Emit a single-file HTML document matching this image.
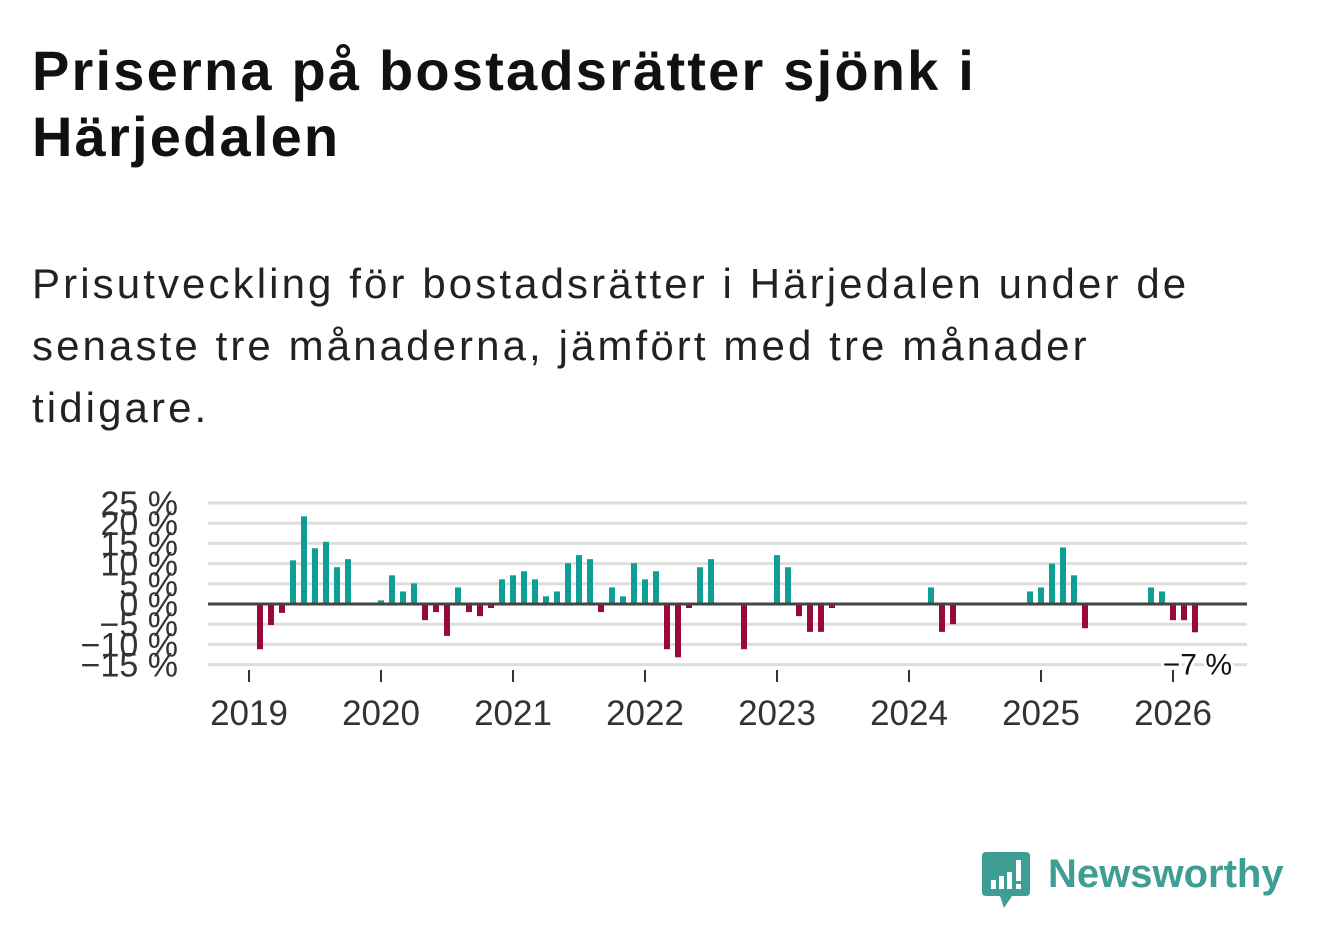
<!DOCTYPE html>
<html><head><meta charset="utf-8"><style>
body{margin:0;background:#fff;width:1322px;height:939px;overflow:hidden;font-family:"Liberation Sans","DejaVu Sans",sans-serif;}
h1{position:absolute;left:32px;top:38px;margin:0;font-size:56px;line-height:66px;font-weight:bold;color:#111;width:1250px;letter-spacing:2.2px;white-space:nowrap}
p{position:absolute;left:32px;top:253px;margin:0;font-size:42px;line-height:62px;color:#222;width:1280px;letter-spacing:3.1px;white-space:nowrap}
</style></head><body>
<h1>Priserna på bostadsrätter sjönk i<br>Härjedalen</h1>
<p>Prisutveckling för bostadsrätter i Härjedalen under de<br>senaste tre månaderna, jämfört med tre månader<br>tidigare.</p>
<svg id="chart" width="1322" height="939" style="position:absolute;left:0;top:0"></svg>
<div style="position:absolute;left:982px;top:852px;width:320px;height:60px">
<svg width="50" height="58" style="position:absolute;left:0;top:0"><path d="M4 0H44Q48 0 48 4V40Q48 44 44 44H30L22 56L18 44H4Q0 44 0 40V4Q0 0 4 0Z" fill="#3f9e94"/><rect x="9" y="28" width="5" height="9" fill="#fff"/><rect x="17" y="24" width="5" height="13" fill="#fff"/><rect x="25" y="20" width="5" height="17" fill="#fff"/><rect x="34" y="8" width="5" height="21" fill="#fff"/><rect x="34" y="32" width="5" height="5" fill="#fff"/></svg>
<span style="position:absolute;left:66px;top:0px;font-size:40px;font-weight:bold;color:#3f9e94;font-family:'Liberation Sans',sans-serif">Newsworthy</span>
</div>
<script>
const values=[null,-11.2,-5.2,-2.2,10.8,21.7,13.8,15.4,9.1,11.1,null,null,
0.9,7.1,3.1,5.1,-4,-2,-7.9,4.1,-2,-3,-1,6.1,
7.1,8.1,6.1,1.9,3.1,10.1,12.1,11.1,-2,4.1,1.9,10.1,
6.1,8.1,-11.2,-13.2,-1,9.1,11.1,null,null,-11.2,null,null,
12.1,9.1,-3,-6.9,-6.9,-1,null,null,null,null,null,null,
null,null,4.1,-6.9,-5,null,null,null,null,null,null,3.1,
4.1,10,14,7.1,-6,null,null,null,null,null,4.1,3.1,
-4,-4,-7];
const yTicks=[25,20,15,10,5,0,-5,-10,-15];
const years=[2019,2020,2021,2022,2023,2024,2025,2026];
const lastLabel="−7 %";
const NS="http://www.w3.org/2000/svg";
const svg=document.getElementById('chart');
const x0=208,x1=1247;
const y=v=>604-v*4.04;
const x=i=>249+11*i;
function mk(t,a){const e=document.createElementNS(NS,t);for(const k in a)e.setAttribute(k,a[k]);svg.appendChild(e);return e;}
yTicks.forEach(t=>{
 if(t!==0){const g=mk('line',{x1:x0,x2:x1,y1:y(t),y2:y(t),stroke:'#ddd','stroke-width':3});
 
 }
 const l=mk('text',{x:178,y:y(t)+12,'text-anchor':'end','font-size':34,fill:'#333','font-family':'Liberation Sans, sans-serif'});
 l.textContent=(t<0?'−'+(-t):t)+' %';
 
 
});
years.forEach((yr,k)=>{
 const xx=x(k*12);
 const tk=mk('line',{x1:xx,x2:xx,y1:670,y2:682,stroke:'#333','stroke-width':2});
 
 
 const t=mk('text',{x:xx,y:725,'text-anchor':'middle','font-size':35,fill:'#333','font-family':'Liberation Sans, sans-serif'});
 t.textContent=yr;
 
 
});
values.forEach((v,i)=>{
 if(v===null)return;
 const r=mk('rect',{x:x(i)-3,width:6,y:Math.min(y(v),y(0)),height:Math.abs(y(v)-y(0)),fill:v>=0?'#0f9e94':'#970a3b'});
 
 
});
const z=mk('line',{x1:x0,x2:x1,y1:y(0),y2:y(0),stroke:'#444','stroke-width':3});


const li=values.length-1;
const lb=mk('text',{x:x(li)+37,y:y(values[li])+42,'text-anchor':'end','font-size':30,fill:'#111',stroke:'#fff','stroke-width':6,'paint-order':'stroke','font-family':'Liberation Sans, sans-serif'});
lb.textContent=lastLabel;


</script>
</body></html>
